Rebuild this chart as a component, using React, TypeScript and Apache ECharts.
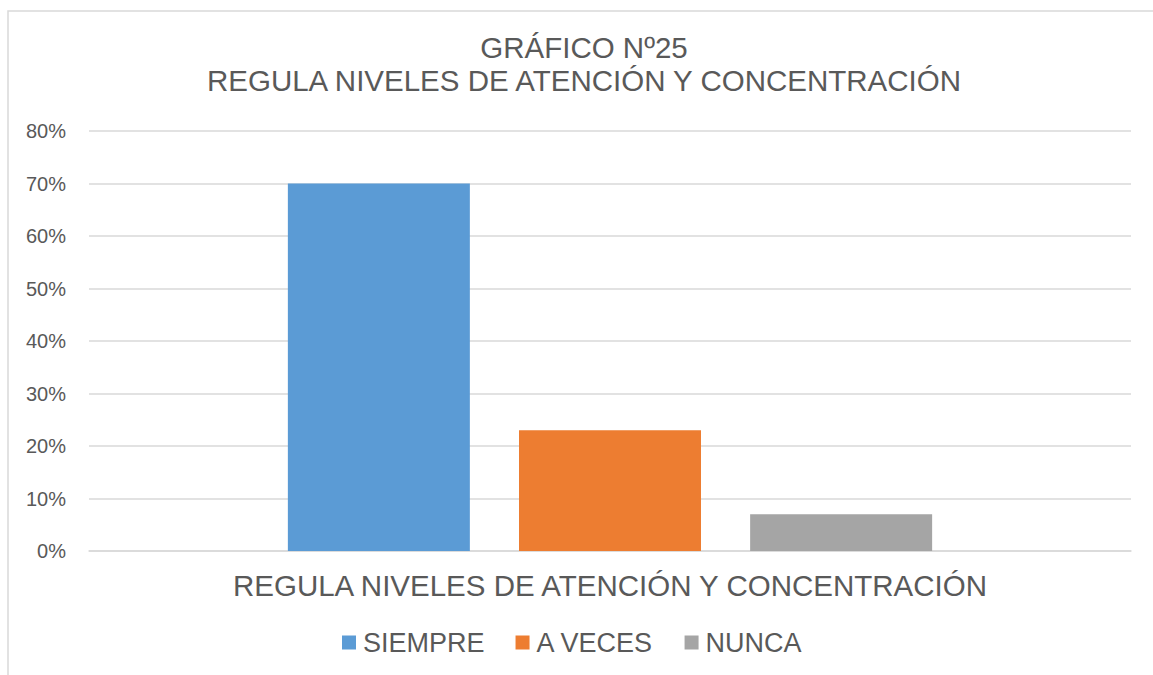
import React, { useEffect, useRef } from "react";
import * as echarts from "echarts";

const categories = ["REGULA NIVELES DE ATENCIÓN Y CONCENTRACIÓN"];
const seriesNames = ["SIEMPRE", "A VECES", "NUNCA"];
const siempre = [70];
const aVeces = [23];
const nunca = [7];
const seriesColors = ["#5B9BD5", "#ED7D31", "#A5A5A5"];
const titleText = "GRÁFICO Nº25\nREGULA NIVELES DE ATENCIÓN Y CONCENTRACIÓN";

export default function App() {
  const ref = useRef<HTMLDivElement>(null);
  useEffect(() => {
    if (!ref.current) return;
    const chart = echarts.init(ref.current, null, { renderer: "svg" });
    const font = "'Liberation Sans', Arial, sans-serif";
    const values = [siempre, aVeces, nunca];
    chart.setOption({
      animation: false,
      backgroundColor: "#ffffff",
      textStyle: { fontFamily: font },
      title: {
        text: titleText,
        left: 579,
        textAlign: "center",
        top: 26,
        textStyle: {
          fontFamily: font,
          fontSize: 29.5,
          fontWeight: "normal",
          color: "#595959",
          lineHeight: 33,
        },
      },
      graphic: [
        {
          type: "rect",
          shape: { x: 8, y: 11, width: 1160, height: 680 },
          style: { fill: "none", stroke: "#d9d9d9", lineWidth: 1.5 },
          silent: true,
          z: -10,
        },
      ],
      legend: {
        data: seriesNames,
        left: 337,
        top: 624,
        itemWidth: 14,
        itemHeight: 14,
        itemGap: 31,
        icon: "rect",
        textStyle: {
          fontFamily: font,
          fontSize: 27,
          color: "#595959",
          padding: [0, 0, 0, 2],
        },
      },
      grid: { left: 89, right: 22, top: 131, bottom: 124, containLabel: false },
      xAxis: {
        type: "category",
        data: categories,
        axisLine: { show: true, lineStyle: { color: "#d9d9d9", width: 1.5 } },
        axisTick: { show: false },
        axisLabel: {
          fontFamily: font,
          fontSize: 29.5,
          color: "#595959",
          margin: 19,
        },
      },
      yAxis: {
        type: "value",
        min: 0,
        max: 80,
        interval: 10,
        axisLine: { show: false },
        axisTick: { show: false },
        splitLine: { lineStyle: { color: "#d9d9d9", width: 1.5 } },
        axisLabel: {
          formatter: "{value}%",
          fontFamily: font,
          fontSize: 20,
          color: "#595959",
          margin: 23,
        },
      },
      series: seriesNames.map((name, i) => ({
        name,
        type: "bar",
        data: values[i],
        barWidth: 182,
        barGap: "27%",
        itemStyle: { color: seriesColors[i] },
      })),
    });
    return () => chart.dispose();
  }, []);
  return (
    <div
      ref={ref}
      style={{ position: "fixed", left: 0, top: 0, width: 1153, height: 675 }}
    />
  );
}
